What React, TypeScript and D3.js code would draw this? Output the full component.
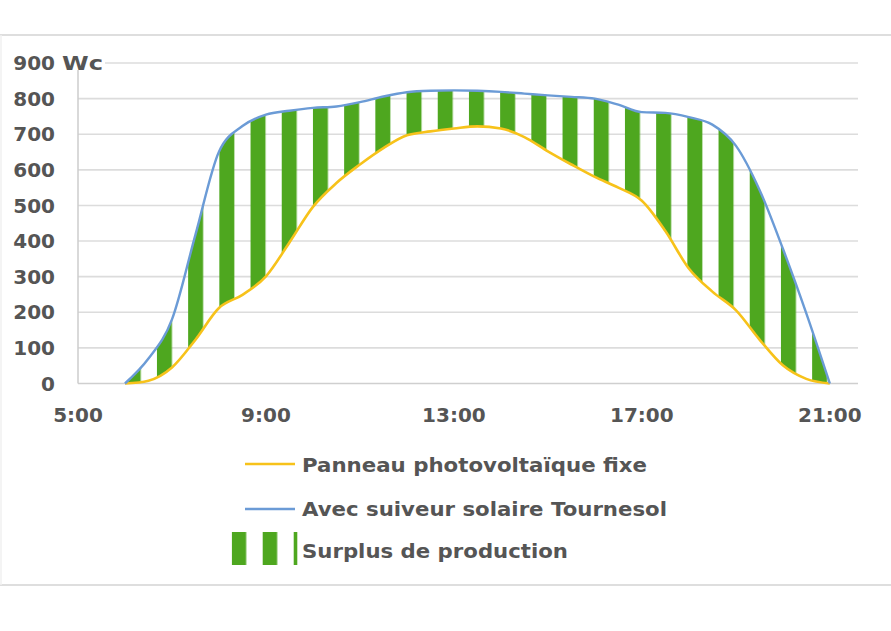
import React from "react";
import * as d3 from "d3";

const hours = [6, 6.5, 7, 7.5, 8, 8.5, 9, 9.5, 10, 10.5, 11, 11.5, 12, 12.5, 13, 13.5, 14, 14.5, 15, 15.5, 16, 16.5, 17, 17.5, 18, 18.5, 19, 19.5, 20, 20.5, 21];
const tracker = [0, 70, 180, 418, 651, 723, 755, 766, 774, 778, 790, 806, 818, 822, 823, 822, 819, 814, 809, 805, 800, 783, 762, 760, 748, 727, 668, 545, 379, 197, 0];
const fixed = [0, 8, 45, 123, 212, 249, 301, 396, 496, 563, 615, 661, 697, 708, 716, 722, 716, 692, 652, 615, 580, 550, 513, 428, 323, 258, 206, 124, 51, 13, 0];
const yTicks = [0, 100, 200, 300, 400, 500, 600, 700, 800, 900];
const xTicks = [5, 9, 13, 17, 21];
const legendLabels = ["Panneau photovoltaïque fixe", "Avec suiveur solaire Tournesol", "Surplus de production"];

const W = 891;
const H = 631;
const FONT = "'DejaVu Sans', sans-serif";
const TEXT = "#555555";
const GREEN = "#4ea71f";
const BLUE = "#6b9bd6";
const YELLOW = "#f7c21a";
const GRID = "#dcdcdc";

export default function App() {
  const x = d3.scaleLinear().domain([5, 21.6]).range([78, 858]);
  const y = d3.scaleLinear().domain([0, 900]).range([383.5, 63]);
  const rows = hours.map((h, i) => ({ h, t: tracker[i], f: fixed[i] }));
  const curve = d3.curveMonotoneX;
  const lineT = d3.line<any>().x((d) => x(d.h)).y((d) => y(d.t)).curve(curve);
  const lineF = d3.line<any>().x((d) => x(d.h)).y((d) => y(d.f)).curve(curve);
  const area = d3
    .area<any>()
    .x((d) => x(d.h))
    .y0((d) => y(d.f))
    .y1((d) => y(d.t))
    .curve(curve);
  const fmt = (h: number) => `${h}:00`;
  const stripeX0 = x(10);
  const period = 31.2;
  const stripeW = 15;

  return (
    <svg
      width={W}
      height={H}
      style={{ position: "absolute", left: 0, top: 0, background: "#fff" }}
      fontFamily={FONT}
    >
      <defs>
        <pattern id="stripes" patternUnits="userSpaceOnUse" x={stripeX0} y={0} width={period} height={H}>
          <rect x={0} y={0} width={stripeW} height={H} fill={GREEN} />
        </pattern>
        <pattern id="stripesLeg" patternUnits="userSpaceOnUse" x={231.7} y={0} width={period - 0.2} height={H}>
          <rect x={0} y={0} width={14.5} height={H} fill={GREEN} />
        </pattern>
      </defs>
      {/* frame */}
      <line x1={0} x2={W} y1={35} y2={35} stroke="#dedede" strokeWidth={2} />
      <line x1={0} x2={W} y1={585} y2={585} stroke="#dedede" strokeWidth={2} />
      <line x1={1} x2={1} y1={35} y2={585} stroke="#f0f0f0" strokeWidth={1.5} />

      {/* gridlines */}
      {yTicks.map((v) => (
        <line
          key={v}
          x1={v === 900 ? 105 : 78}
          x2={858}
          y1={y(v)}
          y2={y(v)}
          stroke={v === 0 ? "#cfcfcf" : GRID}
          strokeWidth={1.6}
        />
      ))}
      <line x1={78} x2={78} y1={70} y2={y(0)} stroke="#cccccc" strokeWidth={1.5} />

      {/* surplus area */}
      <path d={area(rows) || ""} fill="url(#stripes)" />
      <path d={lineF(rows) || ""} fill="none" stroke={YELLOW} strokeWidth={2.6} />
      <path d={lineT(rows) || ""} fill="none" stroke={BLUE} strokeWidth={2.4} />

      {/* y labels */}
      {yTicks.map((v) => (
        <text
          key={v}
          x={55}
          y={y(v)}
          dy="0.36em"
          textAnchor="end"
          fontSize={20}
          fontWeight="bold"
          fill={TEXT}
        >
          {v}
        </text>
      ))}
      <text x={62} y={y(900)} dy="0.36em" fontSize={20} fontWeight="bold" fill={TEXT} textLength={41} lengthAdjust="spacingAndGlyphs">
        Wc
      </text>

      {/* x labels */}
      {xTicks.map((h) => (
        <text key={h} x={x(h)} y={422} textAnchor="middle" fontSize={20} fontWeight="bold" fill={TEXT}>
          {fmt(h)}
        </text>
      ))}

      {/* legend */}
      <line x1={245} x2={295} y1={464} y2={464} stroke={YELLOW} strokeWidth={2.6} />
      <text x={302} y={472} fontSize={19} fontWeight="bold" fill={TEXT} textLength={345} lengthAdjust="spacingAndGlyphs">
        {legendLabels[0]}
      </text>
      <line x1={245} x2={295} y1={509} y2={509} stroke={BLUE} strokeWidth={2.4} />
      <text x={302} y={516} fontSize={19} fontWeight="bold" fill={TEXT} textLength={365} lengthAdjust="spacingAndGlyphs">
        {legendLabels[1]}
      </text>
      <rect x={231.7} y={532} width={65.6} height={33} fill="url(#stripesLeg)" />
      <text x={302} y={558} fontSize={19} fontWeight="bold" fill={TEXT} textLength={266} lengthAdjust="spacingAndGlyphs">
        {legendLabels[2]}
      </text>
    </svg>
  );
}
